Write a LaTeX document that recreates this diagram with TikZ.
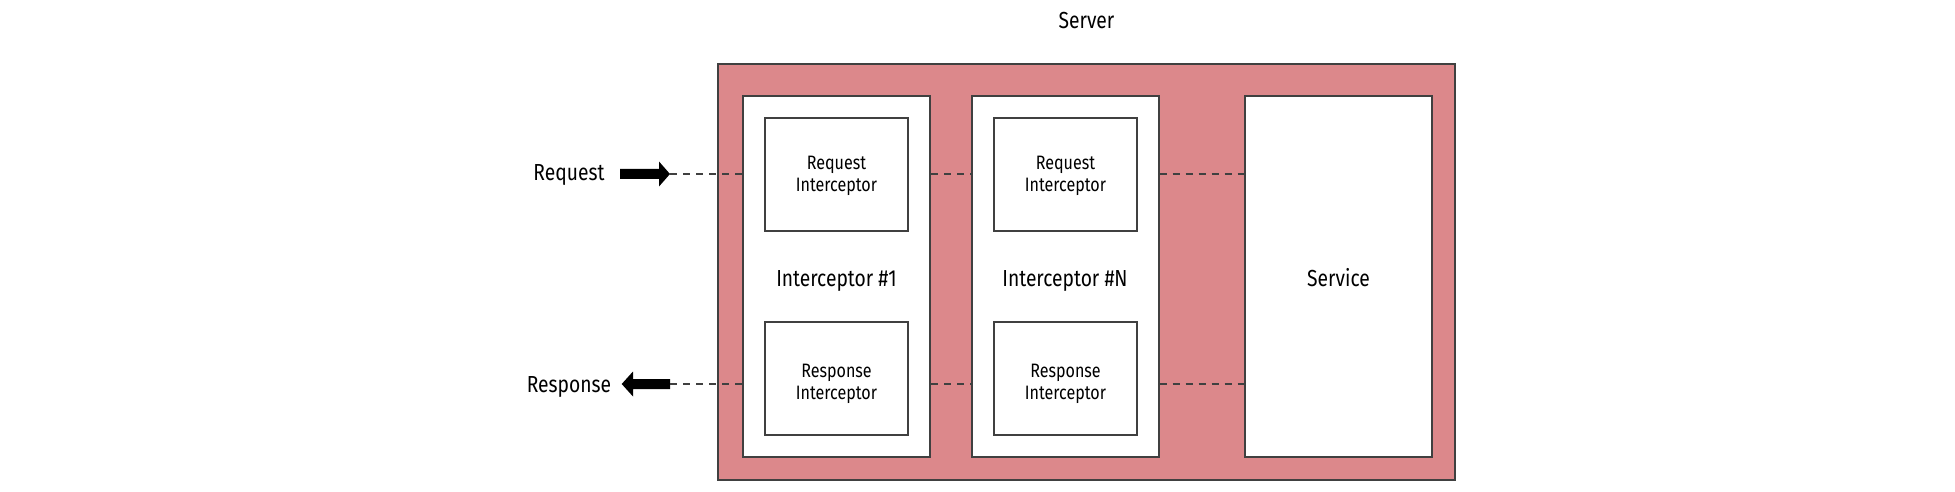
\documentclass[tikz,border=0pt]{standalone}
\usepackage{fontspec}
\setmainfont[FakeStretch=0.83]{Fira Sans}
\definecolor{srvpink}{RGB}{220,136,139}
\definecolor{edgegray}{RGB}{64,64,64}
\begin{document}
\begin{tikzpicture}[x=0.5pt,y=-0.5pt,
  srv/.style={draw=edgegray,line width=1pt,fill=srvpink,minimum width=368.5pt,minimum height=208pt,inner sep=0pt},
  stage/.style={draw=edgegray,line width=1pt,fill=white,minimum width=93.5pt,minimum height=180.5pt,inner sep=0pt},
  subbox/.style={draw=edgegray,line width=0.9pt,fill=white,minimum width=71.5pt,minimum height=56.5pt,inner sep=0pt},
  subtext/.style={inner sep=0pt,align=center,font=\fontsize{9.7}{11.2}\selectfont},
  lbl/.style={font=\fontsize{11.6}{13}\selectfont,inner sep=0pt,anchor=base},
  dashline/.style={draw=edgegray,line width=0.8pt,dash pattern=on 3.5pt off 3pt},
  bigarrow/.style={fill=black}]
\useasboundingbox (0,0) rectangle (1955,492);
% server
\node[srv] (server) at (1086.5,272) {};
\node[lbl] (serverlbl) at (1086.5,29) {Server};
% stages
\node[stage] (int1) at (836.5,276.5) {};
\node[stage] (intN) at (1065,276.5) {};
\node[stage] (svc) at (1338.5,276.5) {};
% inner interceptors
\node[subbox] (req1) at (836.5,174.5) {};
\node[subbox] (resp1) at (836.5,378.5) {};
\node[subbox] (reqN) at (1065.5,174.5) {};
\node[subbox] (respN) at (1065.5,378.5) {};
\node[subtext] (req1t) at (836.5,176) {Request\\Interceptor};
\node[subtext] (resp1t) at (836.5,384) {Response\\Interceptor};
\node[subtext] (reqNt) at (1065.5,176) {Request\\Interceptor};
\node[subtext] (respNt) at (1065.5,384) {Response\\Interceptor};
% stage labels
\node[lbl] (int1lbl) at (836.5,286) {Interceptor \#1};
\node[lbl] (intNlbl) at (1065,286) {Interceptor \#N};
\node[lbl] (svclbl) at (1338.5,286) {Service};
% outside labels
\node[lbl] (reqlbl) at (569,181) {Request};
\node[lbl] (resplbl) at (569,392) {Response};
% arrows
\coordinate (reqtip) at (670,174);
\coordinate (resptail) at (670,384);
\fill[bigarrow] (reqtip) -- ++(-11,-12.5) -- ++(0,7.5) -- ++(-39,0) -- ++(0,10) -- ++(39,0) -- ++(0,7.5) -- cycle;
\fill[bigarrow] (resptail) ++(0,-5) -- ++(-37,0) -- ++(0,-7.5) -- ++(-11.3,12.5) -- ++(11.3,12.5) -- ++(0,-7.5) -- ++(37,0) -- cycle;
% dashed connectors
\draw[dashline] (reqtip) -- (reqtip -| int1.west);
\draw[dashline] (int1.east |- reqtip) -- (intN.west |- reqtip);
\draw[dashline] (intN.east |- reqtip) -- (svc.west |- reqtip);
\draw[dashline] (resptail) -- (resptail -| int1.west);
\draw[dashline] (int1.east |- resptail) -- (intN.west |- resptail);
\draw[dashline] (intN.east |- resptail) -- (svc.west |- resptail);
\end{tikzpicture}
\end{document}
